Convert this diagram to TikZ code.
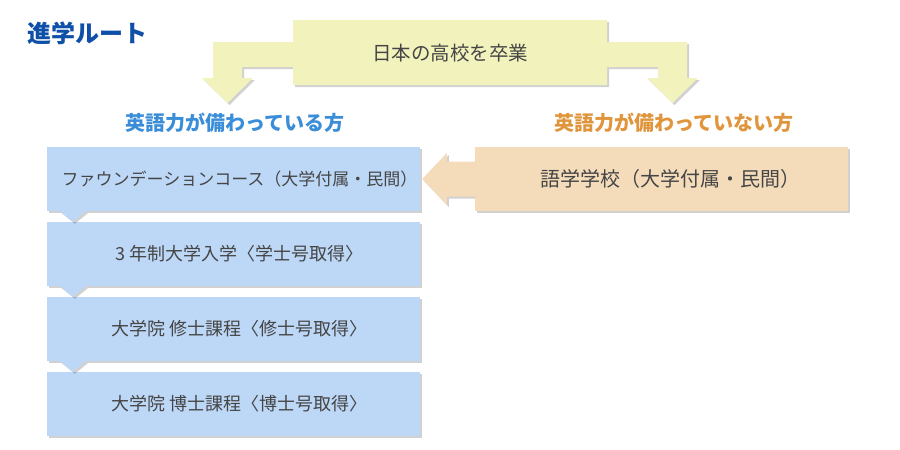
\documentclass[tikz,border=0pt]{standalone}
\usepackage{fontspec}
\setmainfont{Noto Sans CJK JP}
\usetikzlibrary{shadows,backgrounds,calc}
\definecolor{stageblue}{HTML}{BDD7F6}
\definecolor{gradyellow}{HTML}{F2F2BD}
\definecolor{schoolorange}{HTML}{F4DCBA}
\definecolor{inkgray}{HTML}{454545}
\definecolor{titleblue}{HTML}{0E4FA8}
\definecolor{labelblue}{HTML}{3A8DD8}
\definecolor{labelorange}{HTML}{E0953C}
\newcommand{\nudge}[1]{\hspace*{#1pt}}
\tikzset{
  softshadow/.style={drop shadow={shadow xshift=2pt, shadow yshift=-2pt, fill=black, opacity=0.18}},
  stage/.style={fill=stageblue, softshadow, minimum width=373pt, minimum height=64pt, inner sep=0pt,
    text=inkgray, font=\fontsize{18}{22}\selectfont},
  school/.style={stage, fill=schoolorange, font=\fontsize{20}{24}\selectfont},
  branch/.style={font=\bfseries\fontsize{20}{24}\selectfont}
}
\begin{document}
\begin{tikzpicture}[x=1pt, y=-1pt, line join=miter]
		\useasboundingbox (0,0) rectangle (900,450);
		% title and top
		\node[anchor=west, text=titleblue, font=\bfseries\fontsize{24}{28}\selectfont] (route) at (24,33) {進学ルート};
		\node[text=inkgray, font=\fontsize{19.5}{24}\selectfont] (grad) at (450,53) {日本の高校を卒業};
		\node[branch, text=labelblue] (eng) at (235,123) {英語力が備わっている方};
		\node[branch, text=labelorange] (noeng) at (674,123) {英語力が備わっていない方};
		% left column
		\node[stage, font=\fontsize{17}{21}\selectfont] (found) at (233.5,179) {\nudge{12}ファウンデーションコース（大学付属・民間）};
		\node[stage] (bach) at (233.5,254) {\nudge{12}3 年制大学入学〈学士号取得〉};
		\node[stage] (mast) at (233.5,329) {\nudge{12}大学院 修士課程〈修士号取得〉};
		\node[stage] (doct) at (233.5,404) {\nudge{12}大学院 博士課程〈博士号取得〉};
		\node[school] (lang) at (661.5,179) {\nudge{18}語学学校（大学付属・民間）};
		\begin{scope}[on background layer]
		\fill[gradyellow, softshadow] (293,20)--(607,20)--(607,42)--(687,42)--(687,78)--(698,78)--(672.5,103)--(647,78)--(658,78)--(658,67)--(607,67)--(607,85)
			--(293,85)--(293,67)--(242,67)--(242,78)--(253,78)--(227.5,103)--(202,78)--(213,78)--(213,42)--(293,42)--cycle;
		\fill[schoolorange, softshadow] (lang.west)--++(0,-17.5)--++(-28,0)--++(0,-8.5)--($(found.east)+(2,0)$)
			--($(lang.west)+(-28,26)$)--++(0,-8.5)--($(lang.west)+(0,17.5)$)--cycle;
		\end{scope}
		\foreach \a/\b in {found/bach,bach/mast,mast/doct}
			\fill[stageblue, softshadow] ($(\a.south west)+(13,0)$)--($(\a.south west)+(39,0)$)--($(\b.north west)+(26,0)$)--cycle;
		\end{tikzpicture}
\end{document}
